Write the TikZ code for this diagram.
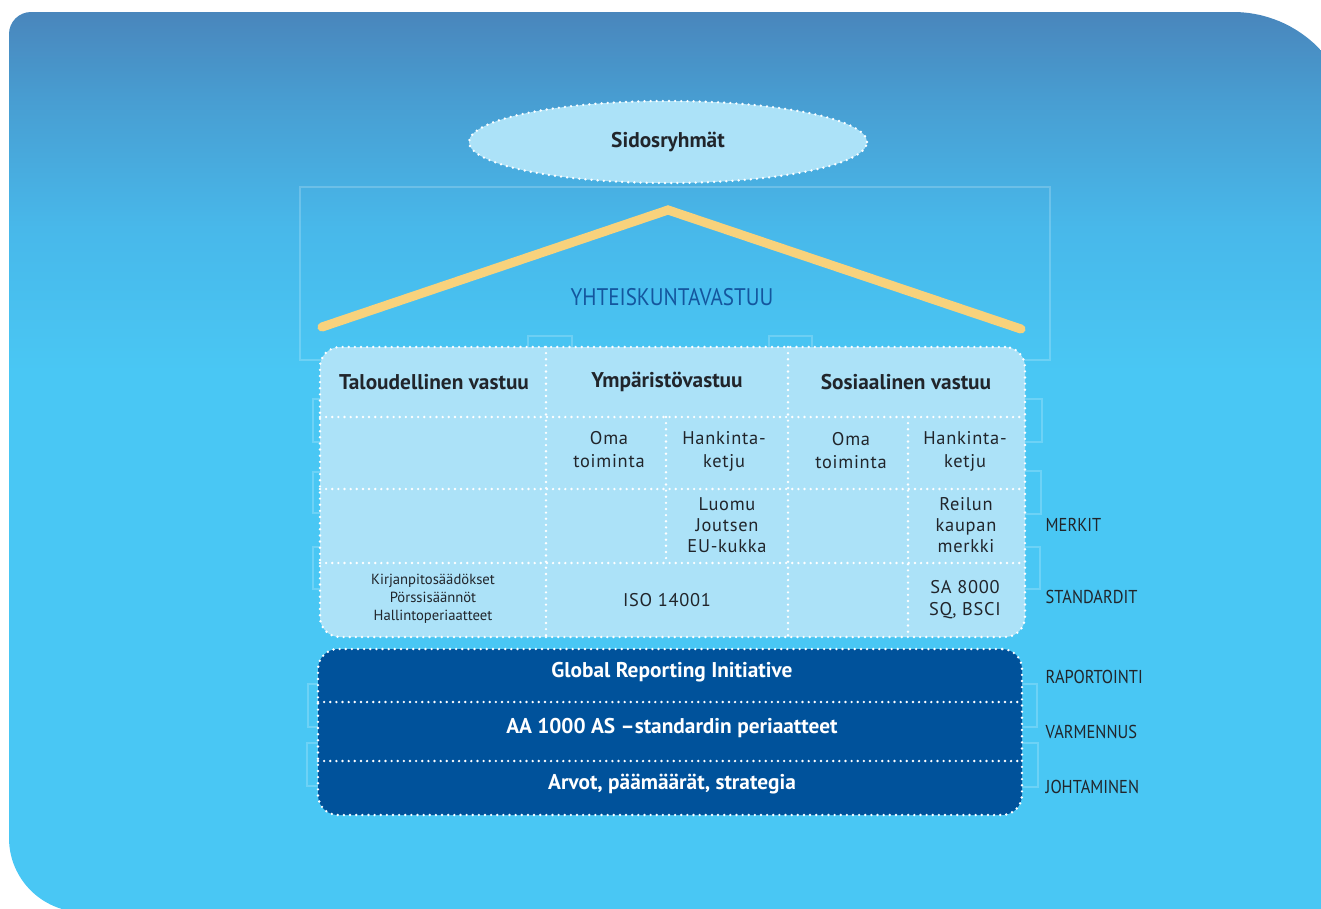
\documentclass[tikz,border=0pt]{standalone}
\usepackage{fontspec}
\setmainfont{PT Sans}
\newfontfamily\condfont{PT Sans}[FakeStretch=0.88]
\newfontfamily\trackfont{PT Sans}[LetterSpace=4]
\usetikzlibrary{shapes.geometric}
\definecolor{bgA}{RGB}{73,134,188}
\definecolor{bgB}{RGB}{72,158,210}
\definecolor{bgD}{RGB}{72,184,234}
\definecolor{bgC}{RGB}{73,199,244}
\definecolor{lightcell}{RGB}{172,226,248}
\definecolor{darkcell}{RGB}{0,82,155}
\definecolor{roofcol}{RGB}{248,210,124}
\definecolor{titleblue}{RGB}{20,86,158}
\definecolor{ink}{RGB}{33,37,43}
\pgfdeclareverticalshading{bgshade}{100bp}{color(0bp)=(bgC); color(55bp)=(bgC); color(63bp)=(bgD); color(70bp)=(bgB); color(75bp)=(bgA); color(100bp)=(bgA)}
\tikzset{
  dotborder/.style={draw=white, line width=2pt, dash pattern=on 0pt off 4.6pt, line cap=round},
  faint/.style={draw=white, draw opacity=0.2, line width=0.8pt},
  roofline/.style={draw=roofcol, line width=6.8pt, line cap=round, line join=miter},
  head/.style={font=\bfseries\fontsize{16}{19}\selectfont, text=ink},
  cell/.style={font=\trackfont\fontsize{13.8}{17.2}\selectfont, text=ink, align=center},
  cellb/.style={font=\trackfont\fontsize{13.8}{15.8}\selectfont, text=ink, align=center},
  small/.style={font=\fontsize{11}{13.5}\selectfont, text=ink, align=center},
  darktxt/.style={font=\bfseries\fontsize{16}{18}\selectfont, text=white},
  sidelabel/.style={font=\condfont\fontsize{14}{16}\selectfont, text=ink, anchor=west}
}
\begin{document}
\begin{tikzpicture}[x=0.75pt,y=-0.75pt]
\useasboundingbox (0,0) rectangle (1321,908);
\clip (0,0) rectangle (1321,908);
% background
\shade[shading=bgshade] (9,34) .. controls (9,21.9) and (18.9,12) .. (31,12)
  -- (1233,12) .. controls (1299.3,12) and (1353,65.7) .. (1353,132)
  -- (1353,912) -- (83,912) .. controls (42.1,912) and (9,878.9) .. (9,838) -- cycle;
% faint guide lines
\draw[faint] (300,187) rectangle (1050,360);
\draw[faint] (528,347) -- (528,336) -- (572,336) -- (572,347);
\draw[faint] (769,347) -- (769,336) -- (812,336) -- (812,347);
\draw[faint] (1025,399) -- (1042,399) -- (1042,442) -- (1025,442);
\draw[faint] (1025,471) -- (1041,471) -- (1041,514) -- (1025,514);
\draw[faint] (1025,547) -- (1040,547) -- (1040,589) -- (1025,589);
\draw[faint] (1022,684) -- (1037,684) -- (1037,727) -- (1022,727);
\draw[faint] (1022,743) -- (1038,743) -- (1038,787) -- (1022,787);
\draw[faint] (320,399) -- (313,399) -- (313,442) -- (320,442);
\draw[faint] (320,472) -- (313,472) -- (313,513) -- (320,513);
\draw[faint] (320,547) -- (313,547) -- (313,589) -- (320,589);
\draw[faint] (318,684) -- (308,684) -- (308,727) -- (318,727);
\draw[faint] (318,743) -- (307,743) -- (307,786) -- (318,786);
% stakeholders ellipse
\node[ellipse, fill=lightcell, dotborder, minimum width=298.5pt, minimum height=61.5pt, inner sep=0pt,
  font=\bfseries\fontsize{16}{19}\selectfont, text=ink] (sid) at (668,142) {Sidosryhmät};
% roof
\coordinate (roofL) at (322,327);
\coordinate (roofT) at (668,210);
\coordinate (roofR) at (1021,329);
\draw[roofline] (roofL) -- (roofT) -- (roofR);
\node[font=\condfont\fontsize{18}{21}\selectfont, text=titleblue] (yv) at (672,297) {YHTEISKUNTAVASTUU};
% light table
\node[fill=lightcell, dotborder, rounded corners=15pt, minimum width=528.75pt, minimum height=217.5pt, inner sep=0pt] (light) at (672.5,492) {};
\draw[dotborder] (546,347) -- (546,637);
\draw[dotborder] (788,347) -- (788,637);
\draw[dotborder] (666,417) -- (666,563);
\draw[dotborder] (908,417) -- (908,637);
\draw[dotborder] (320,417) -- (1025,417);
\draw[dotborder] (320,489) -- (1025,489);
\draw[dotborder] (320,563) -- (1025,563);
\node[head] (h1) at (434,382) {Taloudellinen vastuu};
\node[head] (h2) at (667,382) {Ympäristövastuu};
\node[head] (h3) at (906,382) {Sosiaalinen vastuu};
\node[cell] (c1) at (609,450) {Oma\\toiminta};
\node[cell] (c2) at (724,451) {Hankinta-\\ketju};
\node[cell] (c3) at (851,451) {Oma\\toiminta};
\node[cell] (c4) at (965,451) {Hankinta-\\ketju};
\node[cellb] (m1) at (727,525) {Luomu\\Joutsen\\EU-kukka};
\node[cellb] (m2) at (966,525) {Reilun\\kaupan\\merkki};
\node[small] (s1) at (433,599) {Kirjanpitosäädökset\\Pörssisäännöt\\Hallintoperiaatteet};
\node[cell] (s2) at (667,600) {ISO 14001};
\node[cell, font=\trackfont\fontsize{13.8}{16.5}\selectfont] (s3) at (965,600) {SA 8000\\SQ, BSCI};
% dark table
\node[fill=darkcell, dotborder, rounded corners=15pt, minimum width=528pt, minimum height=124.5pt, inner sep=0pt] (dark) at (670,732) {};
\draw[dotborder] (318,702) -- (1022,702);
\draw[dotborder] (318,761) -- (1022,761);
\node[darktxt] (d1) at (672,672) {Global Reporting Initiative};
\node[darktxt] (d2) at (672,728) {AA 1000 AS –standardin periaatteet};
\node[darktxt] (d3) at (672,784) {Arvot, päämäärät, strategia};
% side labels
\node[sidelabel] (l1) at (1041,525) {MERKIT};
\node[sidelabel] (l2) at (1041,597) {STANDARDIT};
\node[sidelabel] (l3) at (1041,677) {RAPORTOINTI};
\node[sidelabel] (l4) at (1041,732) {VARMENNUS};
\node[sidelabel] (l5) at (1041,787) {JOHTAMINEN};
\end{tikzpicture}
\end{document}
